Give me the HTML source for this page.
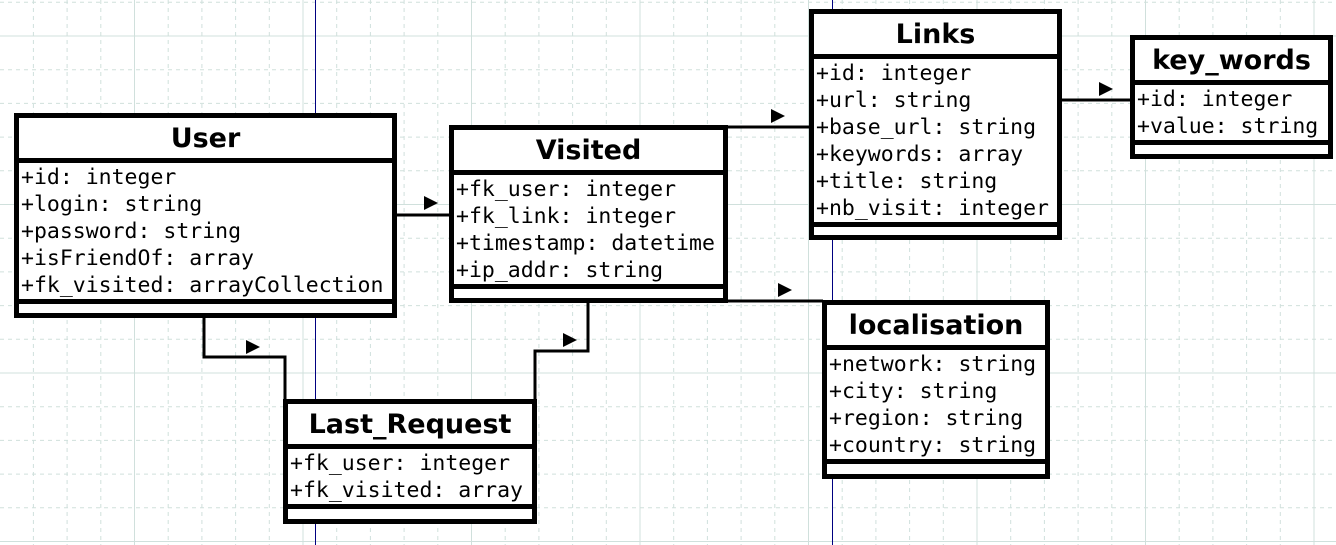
<!DOCTYPE html>
<html><head><meta charset="utf-8"><style>
html,body{margin:0;padding:0;background:#fff;width:1336px;height:545px;overflow:hidden;position:relative}
svg.bg{position:absolute;left:0;top:0}
.box{position:absolute;box-sizing:border-box;border:5px solid #000;background:#fff}
.t{height:40px;border-bottom:5px solid #000;text-align:center;font:bold 27px/42px "DejaVu Sans","Liberation Sans",sans-serif;color:#000}
.a{border-bottom:5px solid #000;padding:1px 0 0 2px;font:21.5px/27px "DejaVu Sans Mono","Liberation Mono",monospace;white-space:pre;color:#000}
.e{height:9px}
</style></head><body>
<svg class="bg" width="1336" height="545" id="g"></svg>
<svg class="bg" width="1336" height="545" style="z-index:0">
<line x1="315.5" y1="0" x2="315.5" y2="545" stroke="#000080" stroke-width="1"/>
<line x1="832.5" y1="0" x2="832.5" y2="545" stroke="#000080" stroke-width="1"/>
<g stroke="#000" stroke-width="3" fill="none">
<polyline points="396,215 450,215"/>
<polyline points="727,127 810,127"/>
<polyline points="1061,100 1131,100"/>
<polyline points="727,301 823,301"/>
<polyline points="204,318 204,357 285,357 285,400"/>
<polyline points="588,301 588,351 535,351 535,400"/>
</g>
<g fill="#000">
<polygon points="424,196 438,203 424,210"/>
<polygon points="771,109 785,116 771,123"/>
<polygon points="1099,82 1113,89 1099,96"/>
<polygon points="778,283 792,290 778,297"/>
<polygon points="246,340 260,347 246,354"/>
<polygon points="563,333 577,340 563,347"/>
</g>
</svg>
<div class="box" style="left:14px;top:113px;width:383px;height:205px"><div class="t">User</div><div class="a">+id: integer
+login: string
+password: string
+isFriendOf: array
+fk_visited: arrayCollection</div><div class="e"></div></div>
<div class="box" style="left:449px;top:125px;width:279px;height:178px"><div class="t">Visited</div><div class="a">+fk_user: integer
+fk_link: integer
+timestamp: datetime
+ip_addr: string</div><div class="e"></div></div>
<div class="box" style="left:809px;top:9px;width:253px;height:231px"><div class="t">Links</div><div class="a">+id: integer
+url: string
+base_url: string
+keywords: array
+title: string
+nb_visit: integer</div><div class="e"></div></div>
<div class="box" style="left:1130px;top:35px;width:203px;height:124px"><div class="t">key_words</div><div class="a">+id: integer
+value: string</div><div class="e"></div></div>
<div class="box" style="left:822px;top:300px;width:228px;height:179px"><div class="t">localisation</div><div class="a">+network: string
+city: string
+region: string
+country: string</div><div class="e"></div></div>
<div class="box" style="left:283px;top:399px;width:254px;height:125px"><div class="t">Last_Request</div><div class="a">+fk_user: integer
+fk_visited: array</div><div class="e"></div></div>
<script>
var g=document.getElementById('g'),s='',sp=33.7,x,y,n;
for(n=-10;n<=32;n++){x=303+n*sp;if(x<0||x>1336)continue;var sol=(n%5==0);
s+='<line x1="'+x.toFixed(1)+'" y1="0" x2="'+x.toFixed(1)+'" y2="545" stroke="#d0e0dc" stroke-width="1"'+(sol?'':' stroke-dasharray="4,4"')+'/>';}
for(n=-12;n<=6;n++){y=373+n*sp;if(y<0||y>545)continue;var sol=(n%5==0);
s+='<line x1="0" y1="'+y.toFixed(1)+'" x2="1336" y2="'+y.toFixed(1)+'" stroke="#d0e0dc" stroke-width="1"'+(sol?'':' stroke-dasharray="4,4"')+'/>';}
g.innerHTML=s;
</script>
</body></html>
